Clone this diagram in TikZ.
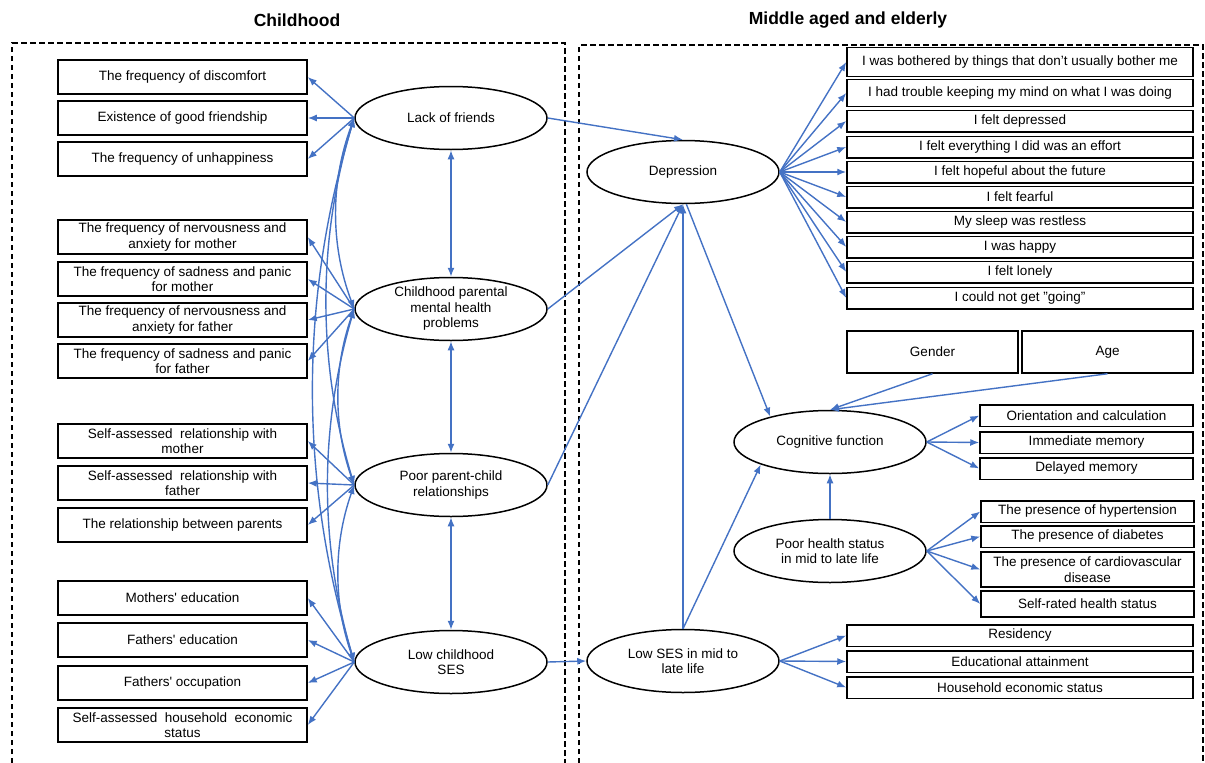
\documentclass[tikz,border=0pt]{standalone}
\usepackage{fontspec}
\setmainfont{Liberation Sans}
\usetikzlibrary{shapes.geometric,arrows.meta}
\definecolor{arr}{HTML}{4472C4}
\begin{document}
\begin{tikzpicture}[x=1pt,y=-1pt,
  every node/.style={font=\fontsize{13.5}{15.5}\selectfont},
  box/.style={draw=black, line width=1.5pt, inner sep=0pt, align=center},
  lbox/.style={box, minimum width=249pt, minimum height=34pt},
  rbox/.style={box, minimum width=346pt, minimum height=21.5pt},
  cbox/.style={box, minimum width=213pt, minimum height=21.5pt},
  ell/.style={draw=black, line width=1.5pt, ellipse, minimum width=192pt, minimum height=63pt, inner sep=0pt},
  con/.style={draw=arr, line width=1.4pt, -{Latex[length=9pt,width=7pt]}},
  bicon/.style={draw=arr, line width=1.4pt, {Latex[length=9pt,width=7pt]}-{Latex[length=9pt,width=7pt]}},
  ttl/.style={font=\fontsize{17.5}{20}\selectfont\bfseries},
  frame/.style={line width=1.4pt, dash pattern=on 5.5pt off 3.5pt}
]
\useasboundingbox (0,0) rectangle (1205,763);

% titles and frames
\node[ttl] (t1) at (297,20) {Childhood};
\node[ttl] (t2) at (848,20) {Middle aged and elderly};
\draw[frame] (12,763) -- (12,43) -- (565,43) -- (565,763);
\draw[frame] (579,763) -- (579,45) -- (1203,45) -- (1203,763);

% left rectangles
\node[lbox] (l1) at (182.5,77) {The frequency of discomfort};
\node[lbox] (l2) at (182.5,118) {Existence of good friendship};
\node[lbox] (l3) at (182.5,159) {The frequency of unhappiness};
\node[lbox] (l4) at (182.5,237) {The frequency of nervousness and\\anxiety for mother};
\node[lbox] (l5) at (182.5,279) {The frequency of sadness and panic\\for mother};
\node[lbox] (l6) at (182.5,320) {The frequency of nervousness and\\anxiety for father};
\node[lbox] (l7) at (182.5,361) {The frequency of sadness and panic\\for father};
\node[lbox] (l8) at (182.5,441) {Self-assessed\ \ relationship with\\mother};
\node[lbox] (l9) at (182.5,483) {Self-assessed\ \ relationship with\\father};
\node[lbox] (l10) at (182.5,525) {The relationship between parents};
\node[lbox] (l11) at (182.5,598) {Mothers\textquotesingle{} education};
\node[lbox] (l12) at (182.5,640) {Fathers\textquotesingle{} education};
\node[lbox] (l13) at (182.5,683) {Fathers\textquotesingle{} occupation};
\node[lbox] (l14) at (182.5,725) {Self-assessed\ \ household\ \ economic\\status};

% left ellipses
\node[ell, label={[align=center]center:Lack of friends}] (lf) at (451,118) {};
\node[ell, label={[align=center]center:Childhood parental\\mental health\\problems}] (cp) at (451,309) {};
\node[ell, label={[align=center]center:Poor parent-child\\relationships}] (pp) at (451,485) {};
\node[ell, label={[align=center]center:Low childhood\\SES}] (ls) at (451,662) {};

% right ellipses
\node[ell, label={[align=center]center:Depression}] (dep) at (683,172) {};
\node[ell, label={[align=center]center:Cognitive function}] (cog) at (830,442) {};
\node[ell, label={[align=center]center:Poor health status\\in mid to late life}] (ph) at (830,551) {};
\node[ell, label={[align=center]center:Low SES in mid to\\late life}] (lsm) at (683,661) {};

% depression items
\node[rbox, minimum height=29pt] (d1) at (1020,62) {I was bothered by things that don’t usually bother me};
\node[rbox, minimum height=27pt] (d2) at (1020,93) {I had trouble keeping my mind on what I was doing};
\node[rbox] (d3) at (1020,121) {I felt depressed};
\node[rbox] (d4) at (1020,147) {I felt everything I did was an effort};
\node[rbox] (d5) at (1020,172) {I felt hopeful about the future};
\node[rbox] (d6) at (1020,197) {I felt fearful};
\node[rbox] (d7) at (1020,222) {My sleep was restless};
\node[rbox] (d8) at (1020,247) {I was happy};
\node[rbox] (d9) at (1020,272) {I felt lonely};
\node[rbox] (d10) at (1020,298) {I could not get "going"};

% covariates
\node[box, minimum width=171pt, minimum height=42pt] (gen) at (932.5,352) {Gender};
\node[box, minimum width=171pt, minimum height=42pt] (age) at (1107.5,352) {Age};

% cognitive items
\node[cbox] (c1) at (1086.5,415.5) {Orientation and calculation};
\node[cbox] (c2) at (1086.5,442.5) {Immediate memory};
\node[cbox] (c3) at (1086.5,468.5) {Delayed memory};

% health items
\node[cbox] (h1) at (1087.5,511.5) {The presence of hypertension};
\node[cbox] (h2) at (1087.5,536.5) {The presence of diabetes};
\node[cbox, minimum height=35pt] (h3) at (1087.5,569.5) {The presence of cardiovascular\\disease};
\node[cbox, minimum height=26pt] (h4) at (1087.5,604) {Self-rated health status};

% SES items
\node[rbox] (s1) at (1020,635.5) {Residency};
\node[rbox] (s2) at (1020,661.5) {Educational attainment};
\node[rbox] (s3) at (1020,687.5) {Household economic status};

% left measurement arrows
\foreach \r in {l1,l2,l3} \draw[con] (lf.west) -- (\r.east);
\foreach \r in {l4,l5,l6,l7} \draw[con] (cp.west) -- (\r.east);
\foreach \r in {l8,l9,l10} \draw[con] (pp.west) -- (\r.east);
\foreach \r in {l11,l12,l13,l14} \draw[con] (ls.west) -- (\r.east);

% correlations (curves)
\draw[bicon] (lf.west) .. controls +(-24,64) and +(-24,-64) .. (cp.west);
\draw[bicon] (lf.west) .. controls +(-37,122) and +(-37,-122) .. (pp.west);
\draw[bicon] (lf.west) .. controls +(-55,181) and +(-55,-181) .. (ls.west);
\draw[bicon] (cp.west) .. controls +(-21,59) and +(-21,-59) .. (pp.west);
\draw[bicon] (cp.west) .. controls +(-35,118) and +(-35,-118) .. (ls.west);
\draw[bicon] (pp.west) .. controls +(-21,59) and +(-21,-59) .. (ls.west);

% vertical correlations
\draw[bicon] (lf.south) -- (cp.north);
\draw[bicon] (cp.south) -- (pp.north);
\draw[bicon] (pp.south) -- (ls.north);

% structural paths
\draw[con] (lf.east) -- (dep.north);
\draw[con] (cp.east) -- (dep.south);
\draw[con] (pp.east) -- (dep.south);
\draw[con] (lsm.north) -- (dep.south);
\draw[con] (ls.east) -- (lsm.west);
\draw[con] (dep.-84) -- (cog.157);
\draw[con] (lsm.north) -- (cog.198);
\draw[con] (ph.north) -- (cog.south);
\draw[con] (gen.south) -- (cog.north);
\draw[con] (age.south) -- (cog.north);

% right measurement arrows
\foreach \r in {d1,d2,d3,d4,d5,d6,d7,d8,d9,d10} \draw[con] (dep.east) -- (\r.west);
\foreach \r in {c1,c2,c3} \draw[con] (cog.east) -- (\r.west);
\foreach \r in {h1,h2,h3,h4} \draw[con] (ph.east) -- (\r.west);
\foreach \r in {s1,s2,s3} \draw[con] (lsm.east) -- (\r.west);
\end{tikzpicture}
\end{document}
